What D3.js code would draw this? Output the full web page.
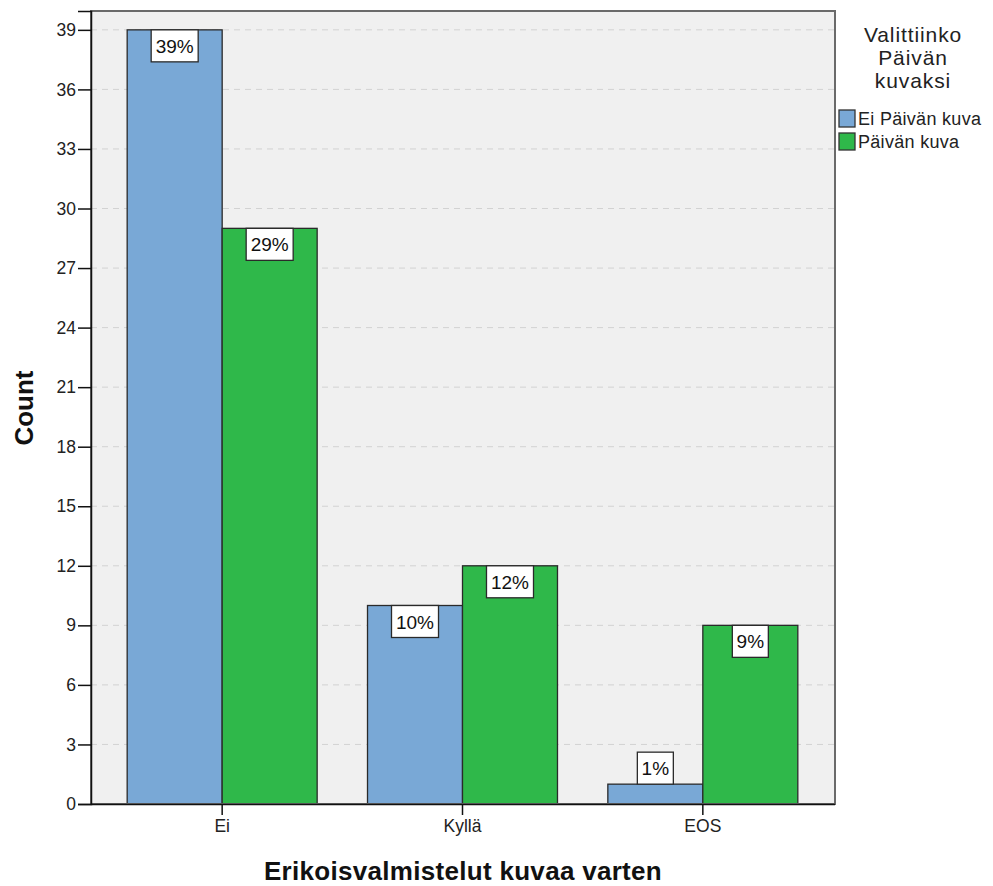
<!DOCTYPE html>
<html><head><meta charset="utf-8">
<script src="https://cdn.jsdelivr.net/npm/d3@7"></script>
<style>body{margin:0;background:#fff;}svg{display:block;font-family:"Liberation Sans",Arial,sans-serif;}</style>
</head><body>
<svg id="c" width="993" height="886"></svg>
<script>
const categories = ["Ei", "Kyllä", "EOS"];
const seriesNames = ["Ei Päivän kuva", "Päivän kuva"];
const eiPaivanKuva = [39, 10, 1];
const paivanKuva = [29, 12, 9];
const pctEi = ["39%", "10%", "1%"];
const pctPaivan = ["29%", "12%", "9%"];
const yTicks = [0,3,6,9,12,15,18,21,24,27,30,33,36,39];
const colors = ["#79a8d6", "#2fb84a"];

const svg = d3.select("#c");
const L = 91, R = 835, T = 11, B = 804;
svg.append("rect").attr("x", L).attr("y", T).attr("width", R-L).attr("height", B-T).attr("fill", "#f0f0f0");

const y = d3.scaleLinear().domain([0, 39.95]).range([B, T]);
const x = d3.scaleBand().domain(categories).range([102, 823]).paddingInner(0).paddingOuter(0);
const xs = d3.scaleBand().domain(seriesNames).range([0, x.bandwidth()]).paddingOuter(0.265).paddingInner(0);

// grid
svg.append("g").selectAll("line").data(yTicks.filter(d=>d>0)).join("line")
  .attr("x1", L).attr("x2", R).attr("y1", d=>y(d)).attr("y2", d=>y(d))
  .attr("stroke", "#d2d2d2").attr("stroke-dasharray", "6,5").attr("stroke-width", 1);

const data = categories.map((c,i)=>({c, vals:[eiPaivanKuva[i], paivanKuva[i]], pcts:[pctEi[i], pctPaivan[i]]}));
const g = svg.append("g");
data.forEach(d=>{
  seriesNames.forEach((s,j)=>{
    const bx = x(d.c) + xs(s), bw = xs.bandwidth();
    g.append("rect").attr("x", bx).attr("y", y(d.vals[j])).attr("width", bw).attr("height", B - y(d.vals[j]))
      .attr("fill", colors[j]).attr("stroke", "#2a2a2a").attr("stroke-width", 1.3);
  });
});
// labels
data.forEach(d=>{
  seriesNames.forEach((s,j)=>{
    const cx = x(d.c) + xs(s) + xs.bandwidth()/2;
    const top = y(d.vals[j]);
    const bh = 32;
    const by = (B - top) > bh + 4 ? top : top - bh;
    const t = d.pcts[j];
    const bw = t.length === 2 ? 36 : 47;
    g.append("rect").attr("x", cx - bw/2).attr("y", by).attr("width", bw).attr("height", bh)
      .attr("fill", "#fff").attr("stroke", "#2a2a2a").attr("stroke-width", 1.3);
    g.append("text").attr("x", cx).attr("y", by + bh/2 + 7).attr("text-anchor", "middle")
      .attr("font-size", 19).attr("fill", "#111").text(t);
  });
});

// border
svg.append("rect").attr("x", L).attr("y", T).attr("width", R-L).attr("height", B-T)
  .attr("fill", "none").attr("stroke", "#6a6a6a").attr("stroke-width", 2);

// y axis
const yAxis = svg.append("g").attr("transform", `translate(${L},0)`)
  .call(d3.axisLeft(y).tickValues(yTicks).tickSize(13).tickPadding(2));
yAxis.select(".domain").attr("stroke", "#111").attr("stroke-width", 1.5);
yAxis.selectAll(".tick line").attr("stroke", "#111").attr("stroke-width", 1.5);
yAxis.selectAll("text").attr("font-size", 17.5).attr("fill", "#222").attr("font-family", "Liberation Sans, Arial, sans-serif");

// x axis
const xAxis = svg.append("g").attr("transform", `translate(0,${B})`)
  .call(d3.axisBottom(x).tickSize(11).tickPadding(5));
xAxis.select(".domain").attr("stroke", "#111").attr("stroke-width", 1.5).attr("d", `M${L},0.5H${R}`);
xAxis.selectAll(".tick line").attr("stroke", "#111").attr("stroke-width", 1.5);
xAxis.selectAll("text").attr("font-size", 17.5).attr("fill", "#222").attr("font-family", "Liberation Sans, Arial, sans-serif");

// axis titles
svg.append("text").attr("transform", "translate(33,408) rotate(-90)").attr("text-anchor", "middle")
  .attr("font-size", 26).attr("font-weight", "bold").attr("fill", "#111").text("Count");
svg.append("text").attr("x", 463).attr("y", 880).attr("text-anchor", "middle")
  .attr("font-size", 26).attr("font-weight", "bold").attr("letter-spacing", 0.3).attr("fill", "#111").text("Erikoisvalmistelut kuvaa varten");

// legend
const legTitle = ["Valittiinko", "Päivän", "kuvaksi"];
svg.append("g").selectAll("text").data(legTitle).join("text")
  .attr("x", 913).attr("y", (d,i)=>42 + i*23).attr("text-anchor", "middle")
  .attr("font-size", 21).attr("letter-spacing", 0.9).attr("fill", "#222").text(d=>d);
const lg = svg.append("g").selectAll("g").data(seriesNames).join("g")
  .attr("transform", (d,i)=>`translate(839,${110 + i*23})`);
lg.append("rect").attr("width", 16).attr("height", 17).attr("fill", (d,i)=>colors[i]).attr("stroke", "#333").attr("stroke-width", 1.3);
lg.append("text").attr("x", 19).attr("y", 15).attr("font-size", 18).attr("letter-spacing", 0.3).attr("fill", "#222").text(d=>d);
</script>
</body></html>
